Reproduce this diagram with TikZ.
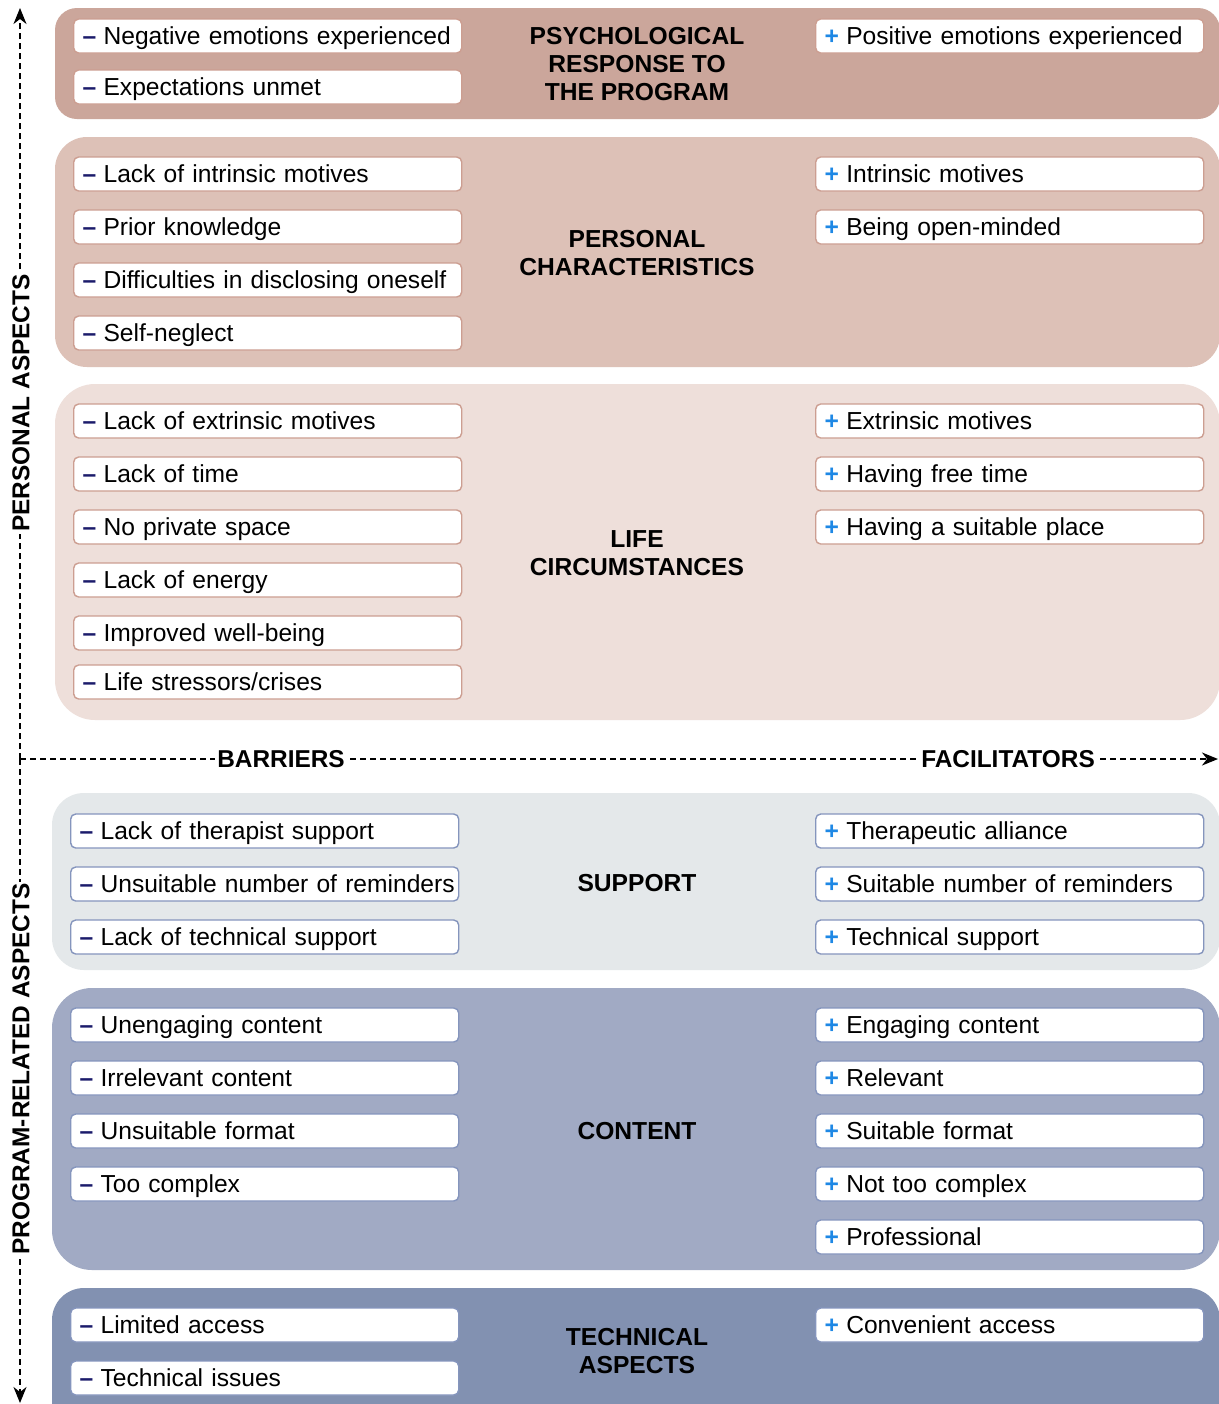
\documentclass[tikz,border=0pt]{standalone}
\usepackage{fontspec}
\setmainfont{Liberation Sans}
\usetikzlibrary{arrows.meta}
\definecolor{pA}{HTML}{CBA69B}
\definecolor{pB}{HTML}{DDC1B7}
\definecolor{pC}{HTML}{EEDFDA}
\definecolor{pD}{HTML}{E4E8EA}
\definecolor{pE}{HTML}{A1AAC4}
\definecolor{pF}{HTML}{8291B1}
\definecolor{bordWarm}{HTML}{CC9E91}
\definecolor{bordCool}{HTML}{8595BD}
\definecolor{navyminus}{HTML}{1B1B6B}
\definecolor{blueplus}{HTML}{1E88E5}
\newcommand\negitem[1]{\mbox{{\bfseries\color{navyminus}–}\hspace{3.6pt}#1}}
\newcommand\positem[1]{\mbox{{\bfseries\color{blueplus}+}\hspace{3.6pt}#1}}
\tikzset{
  itembox/.style={draw=#1, fill=white, rounded corners=2.5pt, line width=0.7pt,
    minimum height=17pt, text width=185pt, inner xsep=4.5pt, inner ysep=0pt,
    text height=8.8pt, text depth=0pt, align=left, anchor=west,
    font=\fontsize{12.3}{14}\selectfont},
  warm/.style={itembox=bordWarm},
  cool/.style={itembox=bordCool},
  grouptitle/.style={font=\fontsize{12.3}{14}\selectfont\bfseries, align=center},
  axislabel/.style={font=\fontsize{12.2}{14}\selectfont\bfseries, fill=white, inner sep=1pt},
  axisline/.style={line width=0.75pt, dash pattern=on 3pt off 2pt, -{Stealth[length=8pt,width=6.5pt,inset=2.5pt]}},
}
\begin{document}
\begin{tikzpicture}[x=0.5pt,y=-0.5pt]
\useasboundingbox (0,0) rectangle (1219,1404);
\clip (0,0) rectangle (1219,1404);
\fill[white] (0,0) rectangle (1219,1404);

% panels
\fill[pA, rounded corners=11pt] (55,8) rectangle (1220,119);
\fill[pB, rounded corners=16pt] (55,137) rectangle (1220,367);
\fill[pC, rounded corners=20pt] (55,384) rectangle (1220,720);
\fill[pD, rounded corners=16pt] (52,793) rectangle (1220,970);
\fill[pE, rounded corners=20pt] (52,988) rectangle (1220,1270);
\fill[pF, rounded corners=16pt] (52,1288) rectangle (1220,1440);

% group titles
\node[grouptitle] (tPsy) at (637,64) {PSYCHOLOGICAL\\RESPONSE TO\\THE PROGRAM};
\node[grouptitle] (tPer) at (637,253) {PERSONAL\\CHARACTERISTICS};
\node[grouptitle] (tLif) at (637,553) {LIFE\\CIRCUMSTANCES};
\node[grouptitle] (tSup) at (637,883) {SUPPORT};
\node[grouptitle] (tCon) at (637,1131) {CONTENT};
\node[grouptitle] (tTec) at (637,1351) {TECHNICAL\\ASPECTS};

% psychological response
\node[warm] (a1) at (73,36) {\negitem{Negative emotions experienced}};
\node[warm] (a2) at (73,87) {\negitem{Expectations unmet}};
\node[warm] (a3) at (815,36) {\positem{Positive emotions experienced}};

% personal characteristics
\node[warm] (b1) at (73,174) {\negitem{Lack of intrinsic motives}};
\node[warm] (b2) at (73,227) {\negitem{Prior knowledge}};
\node[warm] (b3) at (73,280) {\negitem{Difficulties in disclosing oneself}};
\node[warm] (b4) at (73,333) {\negitem{Self-neglect}};
\node[warm] (b5) at (815,174) {\positem{Intrinsic motives}};
\node[warm] (b6) at (815,227) {\positem{Being open-minded}};

% life circumstances
\node[warm] (c1) at (73,421) {\negitem{Lack of extrinsic motives}};
\node[warm] (c2) at (73,474) {\negitem{Lack of time}};
\node[warm] (c3) at (73,527) {\negitem{No private space}};
\node[warm] (c4) at (73,580) {\negitem{Lack of energy}};
\node[warm] (c5) at (73,633) {\negitem{Improved well-being}};
\node[warm] (c6) at (73,682) {\negitem{Life stressors/crises}};
\node[warm] (c7) at (815,421) {\positem{Extrinsic motives}};
\node[warm] (c8) at (815,474) {\positem{Having free time}};
\node[warm] (c9) at (815,527) {\positem{Having a suitable place}};

% support
\node[cool] (d1) at (70,831) {\negitem{Lack of therapist support}};
\node[cool] (d2) at (70,884) {\negitem{Unsuitable number of reminders}};
\node[cool] (d3) at (70,937) {\negitem{Lack of technical support}};
\node[cool] (d4) at (815,831) {\positem{Therapeutic alliance}};
\node[cool] (d5) at (815,884) {\positem{Suitable number of reminders}};
\node[cool] (d6) at (815,937) {\positem{Technical support}};

% content
\node[cool] (e1) at (70,1025) {\negitem{Unengaging content}};
\node[cool] (e2) at (70,1078) {\negitem{Irrelevant content}};
\node[cool] (e3) at (70,1131) {\negitem{Unsuitable format}};
\node[cool] (e4) at (70,1184) {\negitem{Too complex}};
\node[cool] (e5) at (815,1025) {\positem{Engaging content}};
\node[cool] (e6) at (815,1078) {\positem{Relevant}};
\node[cool] (e7) at (815,1131) {\positem{Suitable format}};
\node[cool] (e8) at (815,1184) {\positem{Not too complex}};
\node[cool] (e9) at (815,1237) {\positem{Professional}};

% technical aspects
\node[cool] (f1) at (70,1325) {\negitem{Limited access}};
\node[cool] (f2) at (70,1378) {\negitem{Technical issues}};
\node[cool] (f3) at (815,1325) {\positem{Convenient access}};

% axes
\coordinate (vTop) at (20,8);
\coordinate (vBot) at (20,1403);
\coordinate (vMid) at (20,759);
\coordinate (hEnd) at (1218,759);
\draw[axisline] (vMid) -- (vTop);
\draw[axisline] (vMid) -- (vBot);
\draw[axisline] (vMid) -- (hEnd);

\node[axislabel] (lBar) at (281,759) {BARRIERS};
\node[axislabel] (lFac) at (1008,759) {FACILITATORS};
\node[axislabel, rotate=90] (lPer) at (21,403) {PERSONAL ASPECTS};
\node[axislabel, rotate=90] (lPro) at (21,1069) {PROGRAM-RELATED ASPECTS};
\end{tikzpicture}
\end{document}
